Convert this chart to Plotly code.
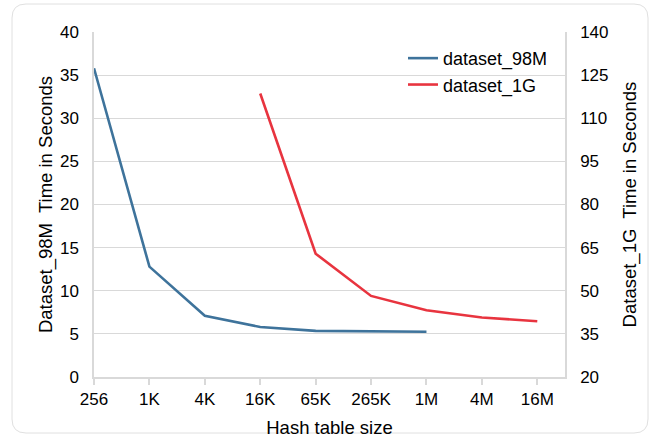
import plotly.graph_objects as go

categories = ["256", "1K", "4K", "16K", "65K", "265K", "1M", "4M", "16M"]
dataset_98m = [35.8, 12.8, 7.1, 5.8, 5.35, 5.3, 5.25, None, None]
dataset_1g = [None, None, None, 118.6, 62.9, 48.2, 43.2, 40.7, 39.4]

blue = "#3E739B"
red = "#E8343F"
grid = "#D9D9D9"
font = "Liberation Sans, Arial, sans-serif"

x = list(range(len(categories)))

fig = go.Figure()
fig.add_trace(go.Scatter(x=x, y=dataset_98m, mode="lines", name="dataset_98M",
                         legendgroup="a", line=dict(color=blue, width=2.6)))
fig.add_trace(go.Scatter(x=x, y=dataset_1g, mode="lines", name="dataset_1G",
                         legendgroup="b", line=dict(color=red, width=2.6), yaxis="y2"))

fig.update_layout(
    width=652, height=438,
    margin=dict(l=94, r=87, t=32, b=61),
    paper_bgcolor="white", plot_bgcolor="white",
    font=dict(family=font, size=17, color="black"),
    showlegend=True,
    legend=dict(x=0.656, y=0.977, xanchor="left", yanchor="top",
                bgcolor="rgba(0,0,0,0)", font=dict(size=18),
                tracegroupgap=0, itemwidth=30),
    xaxis=dict(range=[0, 8.5], tickmode="array", tickvals=x, ticktext=categories,
               automargin=False,
               showgrid=False, zeroline=False, showline=True, linecolor=grid, linewidth=1.5,
               ticks="outside", ticklen=6, tickcolor=grid, tickwidth=1.5,
               tickfont=dict(size=17),
               title=dict(text="Hash table size", font=dict(size=18.5), standoff=13)),
    yaxis=dict(range=[0, 40], dtick=5, tick0=0, showgrid=True, gridcolor=grid, gridwidth=1.2,
               automargin=False,
               zeroline=False, showline=True, linecolor=grid, linewidth=1.5,
               ticks="outside", ticklen=10, tickcolor="rgba(0,0,0,0)", tickfont=dict(size=17),
               title=dict(text="Dataset_98M  Time in Seconds", font=dict(size=18.5), standoff=2)),
    yaxis2=dict(range=[20, 140], dtick=15, tick0=20, overlaying="y", side="right",
                automargin=False,
                showgrid=False, zeroline=False, showline=True, linecolor=grid, linewidth=1.5,
                ticks="outside", ticklen=10, tickcolor="rgba(0,0,0,0)", tickfont=dict(size=17),
                title=dict(text="Dataset_1G  Time in Seconds", font=dict(size=18.5), standoff=16)),
)

# outer rounded chart border (in pixel-equivalent paper coords)
W, H = 652, 438
L, R, T, B = 94, 87, 32, 61
pw, ph = W - L - R, H - T - B
def px(xp):
    return (xp - L) / pw
def py(yp):
    return (H - B - yp) / ph
x0, x1, y0, y1, r = 12, 648, 4, 433, 14
path = (f"M {px(x0 + r)} {py(y0)} L {px(x1 - r)} {py(y0)} "
        f"Q {px(x1)} {py(y0)} {px(x1)} {py(y0 + r)} "
        f"L {px(x1)} {py(y1 - r)} Q {px(x1)} {py(y1)} {px(x1 - r)} {py(y1)} "
        f"L {px(x0 + r)} {py(y1)} Q {px(x0)} {py(y1)} {px(x0)} {py(y1 - r)} "
        f"L {px(x0)} {py(y0 + r)} Q {px(x0)} {py(y0)} {px(x0 + r)} {py(y0)} Z")
fig.add_shape(type="path", path=path, xref="paper", yref="paper",
              line=dict(color="#E0E0E0", width=1), layer="below")

fig.write_html("out.html", config={"displayModeBar": False},
               post_script="document.body.style.margin='0';document.body.style.overflow='hidden';")
